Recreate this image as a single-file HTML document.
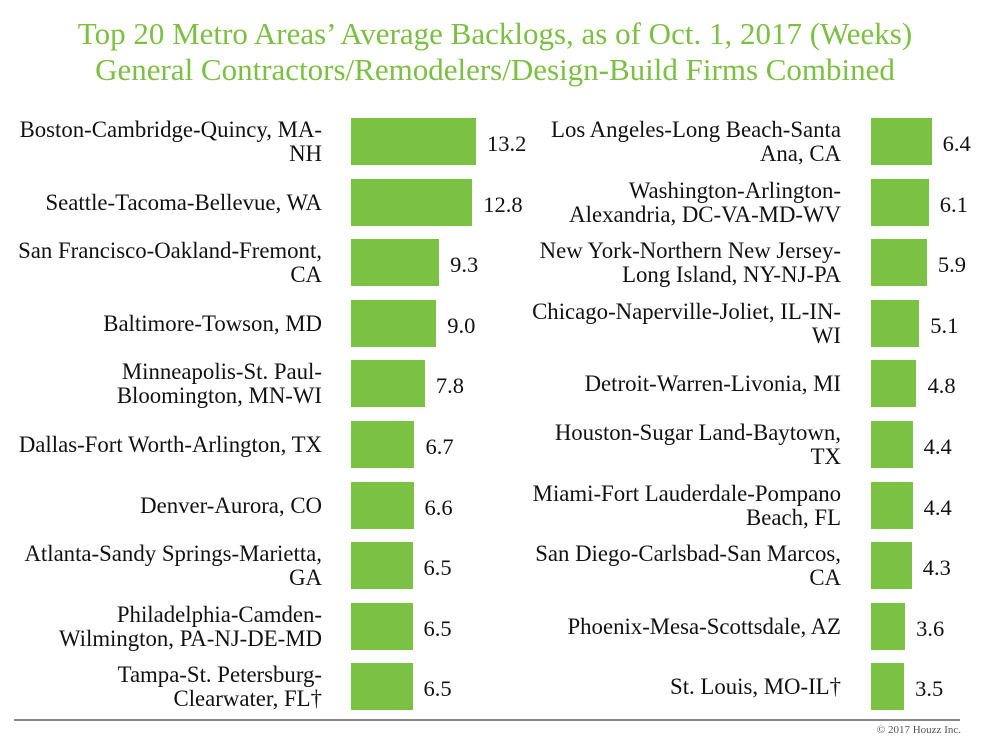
<!DOCTYPE html><html><head><style>
body{margin:0;width:990px;height:752px;background:#fff;font-family:"Liberation Serif",serif;position:relative;overflow:hidden}
.t{position:absolute;left:0;width:990px;text-align:center;color:#7bbf43;font-size:31px;line-height:36px}
.l{position:absolute;text-align:right;font-size:22.8px;line-height:24px;color:#111;display:flex;align-items:center;justify-content:flex-end}
.b{position:absolute;background:#7bc143;height:47px}
.v{position:absolute;font-size:22.5px;color:#111;line-height:47px}
</style></head><body>
<div class="t" style="top:16px">Top 20 Metro Areas’ Average Backlogs, as of Oct. 1, 2017 (Weeks)</div>
<div class="t" style="top:52px">General Contractors/Remodelers/Design-Build Firms Combined</div>
<div id="c"></div>
<div style="position:absolute;left:14px;top:719px;width:946px;height:2px;background:#888"></div>
<div style="position:absolute;right:29px;top:724px;font-size:11px;color:#555">© 2017 Houzz Inc.</div>
<script>
const L=[["Boston-Cambridge-Quincy, MA-<br>NH",13.2],["Seattle-Tacoma-Bellevue, WA",12.8],["San Francisco-Oakland-Fremont,<br>CA",9.3],["Baltimore-Towson, MD",9.0],["Minneapolis-St. Paul-<br>Bloomington, MN-WI",7.8],["Dallas-Fort Worth-Arlington, TX",6.7],["Denver-Aurora, CO",6.6],["Atlanta-Sandy Springs-Marietta,<br>GA",6.5],["Philadelphia-Camden-<br>Wilmington, PA-NJ-DE-MD",6.5],["Tampa-St. Petersburg-<br>Clearwater, FL†",6.5]];
const R=[["Los Angeles-Long Beach-Santa<br>Ana, CA",6.4],["Washington-Arlington-<br>Alexandria, DC-VA-MD-WV",6.1],["New York-Northern New Jersey-<br>Long Island, NY-NJ-PA",5.9],["Chicago-Naperville-Joliet, IL-IN-<br>WI",5.1],["Detroit-Warren-Livonia, MI",4.8],["Houston-Sugar Land-Baytown,<br>TX",4.4],["Miami-Fort Lauderdale-Pompano<br>Beach, FL",4.4],["San Diego-Carlsbad-San Marcos,<br>CA",4.3],["Phoenix-Mesa-Scottsdale, AZ",3.6],["St. Louis, MO-IL†",3.5]];
let h="";
function col(d,lx,lw,bx){d.forEach((r,i)=>{const y=Math.round(118+60.6*i),w=r[1]*9.47;
h+=`<div class="l" style="left:${lx}px;width:${lw}px;top:${y}px;height:47px">${r[0]}</div><div class="b" style="left:${bx}px;top:${y}px;width:${w}px"></div><div class="v" style="left:${bx+w+11}px;top:${y+2}px">${r[1].toFixed(1)}</div>`;});}
col(L,0,322,351);col(R,520,321,871);
document.getElementById("c").innerHTML=h;
</script>
</body></html>
